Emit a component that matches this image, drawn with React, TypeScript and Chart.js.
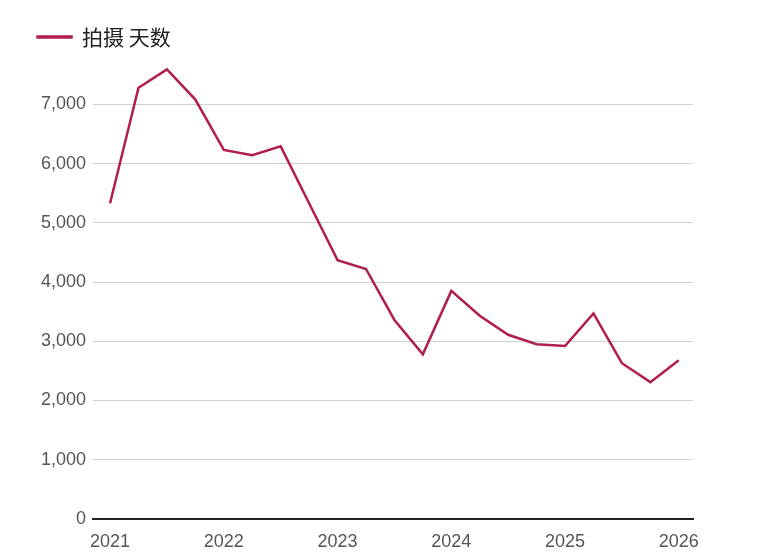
import React, { useEffect, useRef } from "react";
import { Chart, registerables } from "chart.js";

Chart.register(...registerables);

const quarters = [
  "2021 Q1", "2021 Q2", "2021 Q3", "2021 Q4",
  "2022 Q1", "2022 Q2", "2022 Q3", "2022 Q4",
  "2023 Q1", "2023 Q2", "2023 Q3", "2023 Q4",
  "2024 Q1", "2024 Q2", "2024 Q3", "2024 Q4",
  "2025 Q1", "2025 Q2", "2025 Q3", "2025 Q4",
  "2026 Q1",
];
const shootingDays = [
  5330, 7280, 7590, 7080,
  6230, 6140, 6290, 5330,
  4370, 4220, 3360, 2780,
  3850, 3430, 3110, 2950,
  2920, 3470, 2630, 2310,
  2680,
];
const yearLabels = ["2021", "2022", "2023", "2024", "2025", "2026"];
const yTicks = [0, 1000, 2000, 3000, 4000, 5000, 6000, 7000];
const seriesLabel = "拍摄 天数";

export default function App() {
  const ref = useRef<HTMLCanvasElement | null>(null);
  useEffect(() => {
    document.body.style.margin = "0";
    if (!ref.current) return;
    const font = "'Liberation Sans', Arial, sans-serif";
    const points = shootingDays.map((v, i) => ({ x: i, y: v }));
    const chart = new Chart(ref.current, {
      type: "line",
      data: {
        labels: quarters,
        datasets: [
          {
            label: seriesLabel,
            data: points,
            borderColor: "#B01F4B",
            backgroundColor: "#B01F4B",
            borderWidth: 2.5,
            pointRadius: 0,
            tension: 0,
          },
        ],
      },
      options: {
        animation: false,
        responsive: false,
        maintainAspectRatio: false,
        layout: { padding: { left: 17, right: 84, top: 6, bottom: 0 } },
        plugins: {
          tooltip: { enabled: false },
          legend: {
            align: "start",
            labels: {
              boxWidth: 34,
              boxHeight: 1,
              padding: 20.5,
              color: "#222",
              font: { family: "'Noto Sans CJK SC', sans-serif", size: 21 },
            },
          },
        },
        scales: {
          x: {
            type: "linear",
            min: -0.6,
            max: 20.5,
            afterBuildTicks: (s: any) => {
              s.ticks = yearLabels.map((_, i) => ({ value: i * 4 }));
            },
            afterFit: (s: any) => {
              s.height = 36;
            },
            grid: { display: false, drawTicks: false },
            border: { color: "#222", width: 2 },
            ticks: {
              color: "#555",
              font: { family: font, size: 18 },
              padding: 12,
              maxRotation: 0,
              autoSkip: false,
              callback: (v: any) => yearLabels[Math.round(Number(v) / 4)] ?? "",
            },
          },
          y: {
            min: 0,
            max: 7790,
            afterFit: (s: any) => {
              s.width = 76;
            },
            afterBuildTicks: (s: any) => {
              s.ticks = yTicks.map((v) => ({ value: v }));
            },
            grid: { color: "#d0d0d0", lineWidth: 1, drawTicks: false },
            border: { display: false },
            ticks: {
              color: "#555",
              padding: 7,
              font: { family: font, size: 18 },
              callback: (v: any) => Number(v).toLocaleString("en-US"),
            },
          },
        },
      },
    });
    return () => chart.destroy();
  }, []);
  return (
    <div style={{ width: 777, height: 555 }}>
      <canvas ref={ref} width={777} height={555} />
    </div>
  );
}
